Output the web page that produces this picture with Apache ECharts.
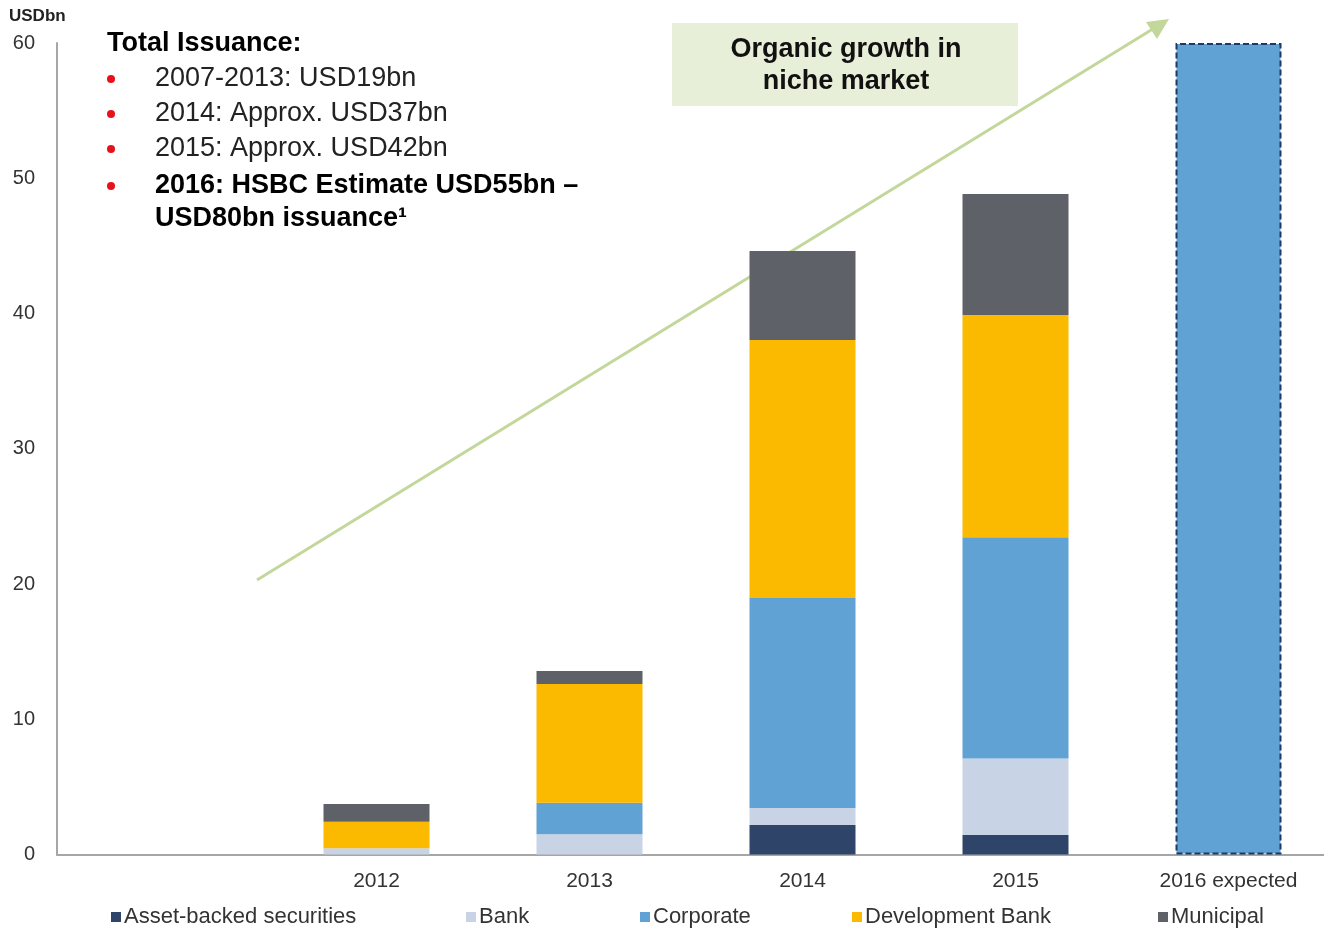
<!DOCTYPE html>
<html>
<head>
<meta charset="utf-8">
<script src="https://cdn.jsdelivr.net/npm/echarts@6/dist/echarts.min.js"></script>
<style>html,body{margin:0;padding:0;background:#fff;}#c{width:1324px;height:930px;}</style>
</head>
<body>
<div id="c"></div>
<script>
var categories = ['', '2012', '2013', '2014', '2015', '2016 expected'];
var seriesNames = ['Asset-backed securities', 'Bank', 'Corporate', 'Development Bank', 'Municipal'];
var absData = ['-', '-', '-', 2.18, 1.44, '-'];
var bankData = ['-', 0.46, 1.49, 1.26, 5.65, '-'];
var corporateData = ['-', '-', 2.34, 15.52, 16.36, 60];
var devBankData = ['-', 1.97, 8.78, 19.08, 16.44, '-'];
var municipalData = ['-', 1.3, 0.96, 6.58, 8.95, '-'];
var yTicks = [0, 10, 20, 30, 40, 50, 60];
var colors = ['#2E4468', '#C9D3E6', '#5FA2D3', '#FBB900', '#5E6168'];

var FONT = '"Liberation Sans", Arial, sans-serif';
var chart = echarts.init(document.getElementById('c'));

var corp = corporateData.map(function (v, i) {
  if (categories[i] === '2016 expected') {
    return { value: v, itemStyle: { borderColor: '#1F3864', borderWidth: 2, borderType: [6, 3] } };
  }
  return v;
});
var allData = [absData, bankData, corp, devBankData, municipalData];

var legendLefts = [111, 466, 640, 852, 1158];
var legends = seriesNames.map(function (n, i) {
  return {
    data: [n], left: legendLefts[i], top: 906, padding: 0, icon: 'rect', itemWidth: 10, itemHeight: 10,
    itemGap: 0, selectedMode: false,
    textStyle: { fontFamily: FONT, fontSize: 22, color: '#333', padding: [0, 0, 0, -2] }
  };
});

var textBlock = [
  { t: 'Total Issuance:', y: 44, bold: true, x: 107, bullet: false },
  { t: '2007-2013: USD19bn', y: 79, bold: false, x: 155, bullet: true },
  { t: '2014: Approx. USD37bn', y: 114, bold: false, x: 155, bullet: true },
  { t: '2015: Approx. USD42bn', y: 149, bold: false, x: 155, bullet: true },
  { t: '2016: HSBC Estimate USD55bn \u2013', y: 186, bold: true, x: 155, bullet: true },
  { t: 'USD80bn issuance\u00B9', y: 219, bold: true, x: 155, bullet: false }
];
var graphics = [];
textBlock.forEach(function (l) {
  graphics.push({
    type: 'text', x: l.x, y: l.y,
    style: { text: l.t, fill: l.bold ? '#000' : '#222', font: (l.bold ? 'bold ' : '') + '27px ' + FONT, verticalAlign: 'middle' }
  });
  if (l.bullet) {
    graphics.push({ type: 'circle', shape: { cx: 111, cy: l.y, r: 4 }, style: { fill: '#E8101A' } });
  }
});
graphics.push({ type: 'text', left: 9, top: 8, style: { text: 'USDbn', fill: '#222', font: 'bold 17px ' + FONT } });
// trend arrow
graphics.push({ type: 'line', shape: { x1: 257, y1: 580, x2: 1156, y2: 27 }, style: { stroke: '#C4D79B', lineWidth: 3 } });
graphics.push({ type: 'polygon', shape: { points: [[1169, 19], [1146, 22], [1157, 39]] }, style: { fill: '#C4D79B' } });
// annotation box
graphics.push({ type: 'rect', shape: { x: 672, y: 23, width: 346, height: 83 }, style: { fill: '#E7EFD8' } });
graphics.push({ type: 'text', x: 846, y: 50, style: { text: 'Organic growth in', fill: '#111', font: 'bold 27px ' + FONT, align: 'center', verticalAlign: 'middle' } });
graphics.push({ type: 'text', x: 846, y: 82, style: { text: 'niche market', fill: '#111', font: 'bold 27px ' + FONT, align: 'center', verticalAlign: 'middle' } });

chart.setOption({
  animation: false,
  backgroundColor: '#fff',
  color: colors,
  legend: legends,
  grid: { left: 57, top: 43, width: 1278, bottom: 75.5, containLabel: false, outerBoundsMode: 'none' },
  xAxis: {
    type: 'category', data: categories,
    axisLine: { lineStyle: { color: '#A6A6A6', width: 2 } },
    axisTick: { show: false },
    axisLabel: { fontFamily: FONT, fontSize: 21, color: '#333', margin: 16, interval: 0 }
  },
  yAxis: {
    type: 'value', min: yTicks[0], max: yTicks[yTicks.length - 1], interval: 10,
    axisLine: { show: true, lineStyle: { color: '#A6A6A6', width: 2 } },
    axisTick: { show: false },
    splitLine: { show: false },
    axisLabel: { fontFamily: FONT, fontSize: 20, color: '#333', margin: 22 }
  },
  series: seriesNames.map(function (n, i) {
    return { name: n, type: 'bar', stack: 'total', barWidth: 106, data: allData[i], itemStyle: { color: colors[i] } };
  }),
  graphic: graphics
});
</script>
</body>
</html>
